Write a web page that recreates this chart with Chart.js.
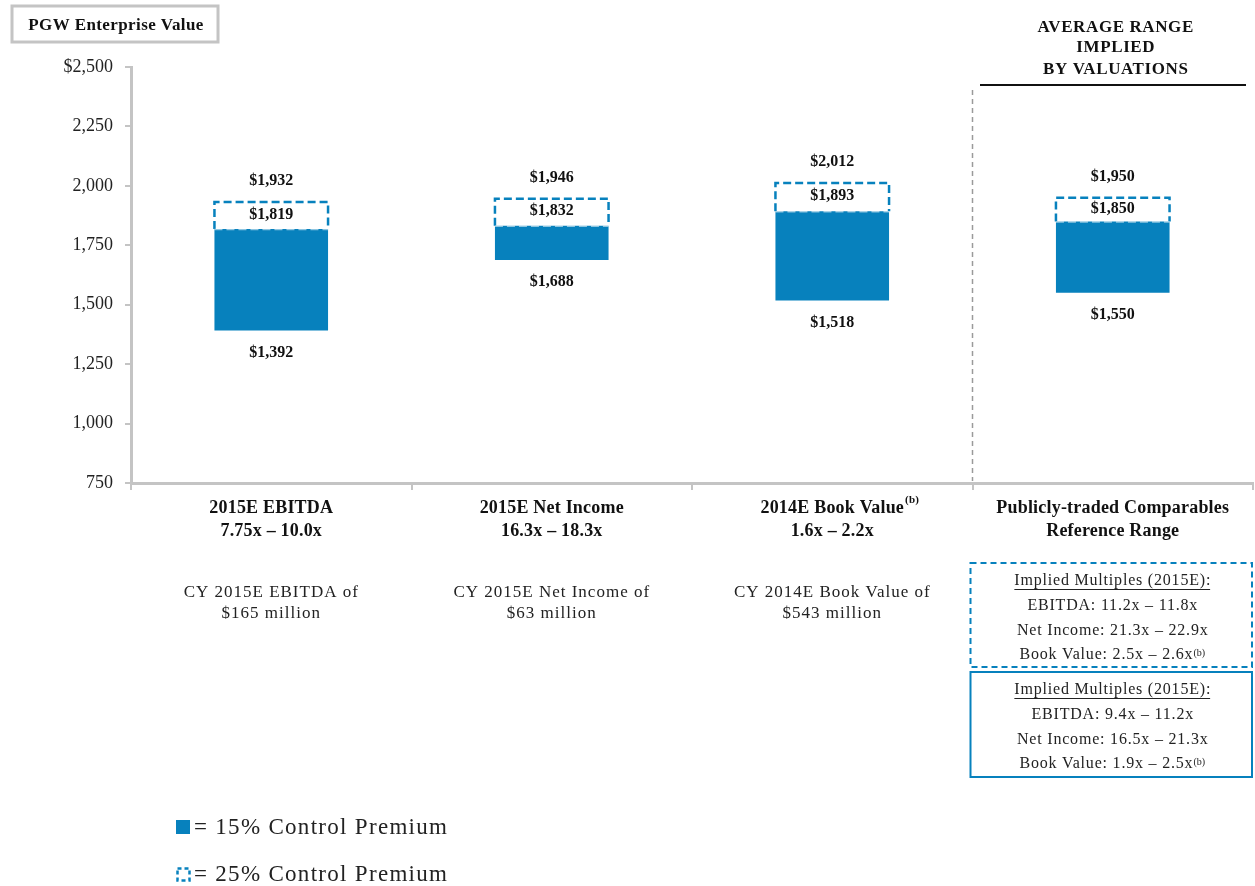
<!DOCTYPE html>
<html>
<head>
<meta charset="utf-8">
<script src="https://cdn.jsdelivr.net/npm/chart.js@4.4.1/dist/chart.umd.min.js"></script>
<style>
  html, body { margin: 0; padding: 0; background: #ffffff; }
  #wrap { position: relative; width: 1255px; height: 886px; }
</style>
</head>
<body>
<div id="wrap"><canvas id="c"></canvas></div>
<script>
// ---- data ----
const categories = ['2015E EBITDA', '2015E Net Income', '2014E Book Value', 'Publicly-traded Comparables'];
const categoryLine2 = ['7.75x \u2013 10.0x', '16.3x \u2013 18.3x', '1.6x \u2013 2.2x', 'Reference Range'];
const categorySup = ['', '', '(b)', ''];
const categoryNotes = [
  ['CY 2015E EBITDA of', '$165 million'],
  ['CY 2015E Net Income of', '$63 million'],
  ['CY 2014E Book Value of', '$543 million'],
  []
];
const low15 = [1392, 1688, 1518, 1550];
const high15 = [1819, 1832, 1893, 1850];
const high25 = [1932, 1946, 2012, 1950];
const yTicks = [750, 1000, 1250, 1500, 1750, 2000, 2250, 2500];
const headerLines = ['AVERAGE RANGE', 'IMPLIED', 'BY VALUATIONS'];
const box25Lines = ['Implied Multiples (2015E):', 'EBITDA: 11.2x \u2013 11.8x', 'Net Income: 21.3x \u2013 22.9x', 'Book Value: 2.5x \u2013 2.6x'];
const box15Lines = ['Implied Multiples (2015E):', 'EBITDA: 9.4x \u2013 11.2x', 'Net Income: 16.5x \u2013 21.3x', 'Book Value: 1.9x \u2013 2.5x'];
const legendLabels = ['= 15% Control Premium', '= 25% Control Premium'];
const chartTitle = 'PGW Enterprise Value';

const BLUE = '#0781bd';
const GRAY = '#c4c4c4';
const SERIF = '"Liberation Serif", "DejaVu Serif", serif';

function fmt$(v) { return '$' + v.toLocaleString('en-US'); }

function spaced(ctx, px) { if ('letterSpacing' in ctx) ctx.letterSpacing = px + 'px'; }

const overlayPlugin = {
  id: 'overlay',
  afterDatasetsDraw(chart) {
    const ctx = chart.ctx;
    const meta25 = chart.getDatasetMeta(1);
    const meta15 = chart.getDatasetMeta(0);
    ctx.save();
    meta25.data.forEach((el, i) => {
      const left = el.x - el.width / 2, right = el.x + el.width / 2;
      const top = el.y, bottom = el.base;
      ctx.lineWidth = 2.5;
      ctx.setLineDash([8, 4]);
      ctx.strokeStyle = BLUE;
      ctx.beginPath();
      ctx.moveTo(left, bottom);
      ctx.lineTo(left, top);
      ctx.lineTo(right, top);
      ctx.lineTo(right, bottom);
      ctx.stroke();
      ctx.strokeStyle = 'rgba(255,255,255,0.55)';
      ctx.lineWidth = 1.5;
      ctx.beginPath();
      ctx.moveTo(left, bottom + 0.5);
      ctx.lineTo(right, bottom + 0.5);
      ctx.stroke();
      ctx.setLineDash([]);
      // labels
      ctx.fillStyle = '#111';
      ctx.font = 'bold 16px ' + SERIF;
      ctx.textAlign = 'center';
      ctx.textBaseline = 'middle';
      ctx.fillText(fmt$(high25[i]), el.x, top - 21);
      ctx.fillText(fmt$(high15[i]), el.x, (top + bottom) / 2 - 1);
      const b = meta15.data[i];
      ctx.fillText(fmt$(low15[i]), b.x, b.base + 22);
    });
    ctx.restore();
  },
  afterDraw(chart) {
    const ctx = chart.ctx;
    const xs = chart.scales.x;
    const area = chart.chartArea;
    ctx.save();
    ctx.textAlign = 'center';
    ctx.textBaseline = 'middle';

    // title box
    ctx.strokeStyle = GRAY;
    ctx.lineWidth = 3;
    ctx.strokeRect(12, 6, 206, 36);
    ctx.fillStyle = '#111';
    ctx.font = 'bold 17px ' + SERIF;
    spaced(ctx, 0.4);
    ctx.fillText(chartTitle, 116, 26);
    spaced(ctx, 0);

    // separator between 3rd and 4th category
    const sepX = (xs.getPixelForValue(2) + xs.getPixelForValue(3)) / 2;
    ctx.strokeStyle = '#9a9a9a';
    ctx.lineWidth = 1.5;
    ctx.setLineDash([5, 4]);
    ctx.beginPath();
    ctx.moveTo(sepX, 90);
    ctx.lineTo(sepX, area.bottom - 2);
    ctx.stroke();
    ctx.setLineDash([]);

    // header on right
    const cx4 = xs.getPixelForValue(3);
    ctx.fillStyle = '#111';
    ctx.font = 'bold 17px ' + SERIF;
    spaced(ctx, 0.6);
    const hy = [28, 48, 70];
    headerLines.forEach((t, k) => ctx.fillText(t, cx4 + 3, hy[k]));
    spaced(ctx, 0);
    ctx.strokeStyle = '#111';
    ctx.lineWidth = 2;
    ctx.beginPath();
    ctx.moveTo(980, 85);
    ctx.lineTo(1246, 85);
    ctx.stroke();

    // category labels
    categories.forEach((c, i) => {
      const x = xs.getPixelForValue(i);
      ctx.font = 'bold 18px ' + SERIF;
      spaced(ctx, 0.2);
      ctx.fillStyle = '#111';
      ctx.textAlign = 'center';
      ctx.fillText(c, x, 508);
      if (categorySup[i]) {
        const w = ctx.measureText(c).width;
        ctx.font = 'bold 11px ' + SERIF;
        ctx.textAlign = 'left';
        ctx.fillText(categorySup[i], x + w / 2 + 1, 500);
        ctx.textAlign = 'center';
        ctx.font = 'bold 18px ' + SERIF;
      }
      ctx.fillText(categoryLine2[i], x, 531);
      ctx.font = '17px ' + SERIF;
      spaced(ctx, 1);
      ctx.fillStyle = '#222';
      categoryNotes[i].forEach((t, k) => ctx.fillText(t, x, 593 + k * 21));
      spaced(ctx, 0);
    });

    // right boxes
    const bl = sepX - 2, br = 1252;
    ctx.lineWidth = 2;
    ctx.strokeStyle = BLUE;
    ctx.setLineDash([6, 4]);
    ctx.strokeRect(bl, 563, br - bl, 104);
    ctx.setLineDash([]);
    ctx.strokeRect(bl, 672, br - bl, 105);

    function drawBox(lines, y0) {
      lines.forEach((t, k) => {
        const y = y0 + k * 24.7;
        ctx.font = '16px ' + SERIF;
        spaced(ctx, 0.8);
        ctx.fillStyle = '#222';
        const last = k === lines.length - 1;
        const w = ctx.measureText(t).width;
        spaced(ctx, 0);
        ctx.font = '10px ' + SERIF;
        const sw = last ? ctx.measureText('(b)').width + 1 : 0;
        ctx.font = '16px ' + SERIF;
        spaced(ctx, 0.8);
        const start = cx4 - (w + sw) / 2;
        ctx.textAlign = 'left';
        ctx.fillText(t, start, y);
        spaced(ctx, 0);
        if (k === 0) {
          ctx.strokeStyle = '#222';
          ctx.lineWidth = 1;
          ctx.beginPath();
          ctx.moveTo(start, y + 8.5);
          ctx.lineTo(start + w - 1, y + 8.5);
          ctx.stroke();
        }
        if (last) {
          ctx.font = '10px ' + SERIF;
          ctx.fillText('(b)', start + w, y - 2);
        }
        ctx.textAlign = 'center';
      });
    }
    drawBox(box25Lines, 581);
    drawBox(box15Lines, 690);

    // legend
    ctx.fillStyle = BLUE;
    ctx.fillRect(176, 820, 14, 14);
    ctx.strokeStyle = BLUE;
    ctx.lineWidth = 2.5;
    ctx.setLineDash([4, 3]);
    ctx.strokeRect(177.5, 868.5, 12, 12);
    ctx.setLineDash([]);
    ctx.fillStyle = '#222';
    ctx.font = '23px ' + SERIF;
    spaced(ctx, 1.3);
    ctx.textAlign = 'left';
    ctx.fillText(legendLabels[0], 194, 828);
    ctx.fillText(legendLabels[1], 194, 875);
    spaced(ctx, 0);
    ctx.restore();
  }
};

new Chart(document.getElementById('c'), {
  type: 'bar',
  data: {
    labels: categories,
    datasets: [
      {
        label: '15% Control Premium',
        data: low15.map((l, i) => [l, high15[i]]),
        backgroundColor: BLUE,
        borderWidth: 0,
        grouped: false,
        categoryPercentage: 1,
        barPercentage: 0.405,
        order: 2
      },
      {
        label: '25% Control Premium',
        data: high15.map((h, i) => [h, high25[i]]),
        backgroundColor: 'rgba(255,255,255,0)',
        borderWidth: 0,
        grouped: false,
        categoryPercentage: 1,
        barPercentage: 0.405,
        order: 1
      }
    ]
  },
  options: {
    responsive: true,
    maintainAspectRatio: false,
    animation: false,
    layout: { padding: { top: 67, right: 2, bottom: 0, left: 0 } },
    plugins: { legend: { display: false }, tooltip: { enabled: false } },
    scales: {
      x: {
        grid: { display: true, drawOnChartArea: false, drawTicks: true, tickLength: 7, color: GRAY, lineWidth: 2, offset: true },
        border: { display: true, color: GRAY, width: 3 },
        ticks: { display: false },
        afterFit(scale) { scale.height = 886 - 483; }
      },
      y: {
        min: 750,
        max: 2500,
        afterBuildTicks(scale) { scale.ticks = yTicks.map(v => ({ value: v })); },
        grid: { display: true, drawOnChartArea: false, drawTicks: true, tickLength: 6, color: GRAY, lineWidth: 2 },
        border: { display: true, color: GRAY, width: 3 },
        ticks: {
          padding: 12,
          color: '#222',
          font: { family: SERIF, size: 18 },
          callback(v) { return v === 2500 ? fmt$(v) : v.toLocaleString('en-US'); }
        },
        afterFit(scale) { scale.width = 131; }
      }
    }
  },
  plugins: [overlayPlugin]
});
</script>
</body>
</html>
